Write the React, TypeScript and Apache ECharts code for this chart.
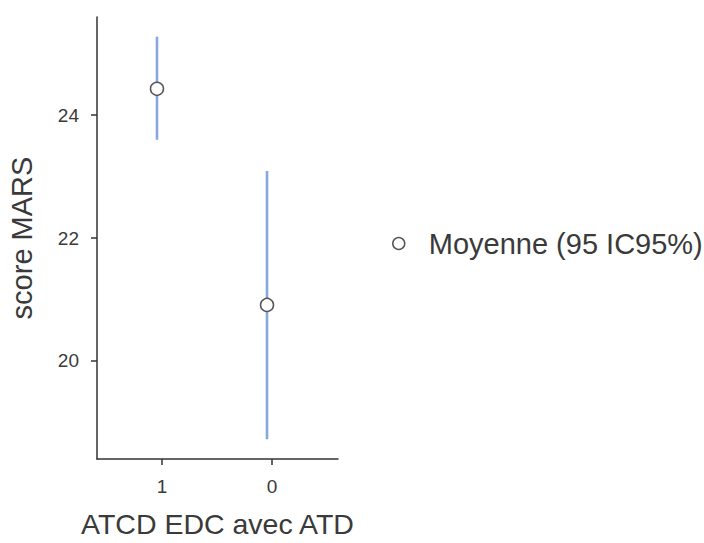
import React, { useEffect, useRef } from "react";
import * as echarts from "echarts";

const categories = ["1", "0"];
const means = [24.43, 20.91];
const lower = [23.6, 18.72];
const upper = [25.28, 23.09];
const yTicks = [20, 22, 24];
const xTicks = [1, 2];
const seriesName = "Moyenne (95 IC95%)";
const xAxisTitle = "ATCD EDC avec ATD";
const yAxisTitle = "score MARS";

const DODGE = -0.045;
const FONT = "'Liberation Sans', Arial, sans-serif";

export default function App() {
  const ref = useRef<HTMLDivElement>(null);
  useEffect(() => {
    if (!ref.current) return;
    const chart = echarts.init(ref.current, null, { renderer: "svg" });
    const pointData = means.map((m, i) => [i + 1 + DODGE, m]);
    const errData = means.map((_, i) => [i + 1 + DODGE, lower[i], upper[i]]);
    chart.setOption({
      animation: false,
      textStyle: { fontFamily: FONT },
      grid: { left: 97, right: 366, top: 17, bottom: 78, containLabel: false },
      xAxis: {
        type: "value",
        min: 0.41,
        max: 2.6,
        name: xAxisTitle,
        nameLocation: "middle",
        nameGap: 50,
        nameTextStyle: { fontSize: 28.5, color: "#3a3a3a", fontFamily: FONT },
        axisLine: { show: true, lineStyle: { color: "#333", width: 1.5 } },
        axisTick: { show: true, length: 6, customValues: xTicks, lineStyle: { color: "#333", width: 1.5 } },
        axisLabel: {
          customValues: xTicks,
          margin: 18,
          fontSize: 19,
          color: "#3a3a3a",
          formatter: (v: number) => categories[Math.round(v) - 1] ?? "",
        },
        splitLine: { show: false },
      },
      yAxis: {
        type: "value",
        min: 18.4,
        max: 25.6,
        name: yAxisTitle,
        nameLocation: "middle",
        nameRotate: 90,
        nameGap: 61,
        nameTextStyle: { fontSize: 29, color: "#3a3a3a", fontFamily: FONT },
        axisLine: { show: true, lineStyle: { color: "#333", width: 1.5 } },
        axisTick: { show: true, length: 6, customValues: yTicks, lineStyle: { color: "#333", width: 1.5 } },
        axisLabel: { customValues: yTicks, margin: 18, fontSize: 19, color: "#3a3a3a" },
        splitLine: { show: false },
      },
      legend: {
        show: true,
        left: 387,
        top: 224,
        itemWidth: 12,
        itemHeight: 12,
        icon: "circle",
        data: [{ name: seriesName, itemStyle: { color: "#fff", borderColor: "#555", borderWidth: 1.5 } }],
        textStyle: { fontSize: 29, color: "#3a3a3a", fontFamily: FONT, padding: [0, 0, 0, 19] },
      },
      series: [
        {
          type: "custom",
          name: "err",
          z: 1,
          data: errData,
          renderItem: (params: any, api: any) => {
            const x = api.value(0);
            const lo = api.coord([x, api.value(1)]);
            const hi = api.coord([x, api.value(2)]);
            return {
              type: "line",
              shape: { x1: lo[0], y1: lo[1], x2: hi[0], y2: hi[1] },
              style: { stroke: "#88a7df", lineWidth: 2.6 },
            };
          },
        },
        {
          type: "scatter",
          name: seriesName,
          z: 3,
          symbol: "circle",
          symbolSize: 13,
          itemStyle: { color: "#fff", borderColor: "#555", borderWidth: 1.5, opacity: 1 },
          data: pointData,
        },
      ],
    });
    return () => chart.dispose();
  }, []);
  return <div ref={ref} style={{ width: 704, height: 543, position: "absolute", left: 0, top: 0 }} />;
}
